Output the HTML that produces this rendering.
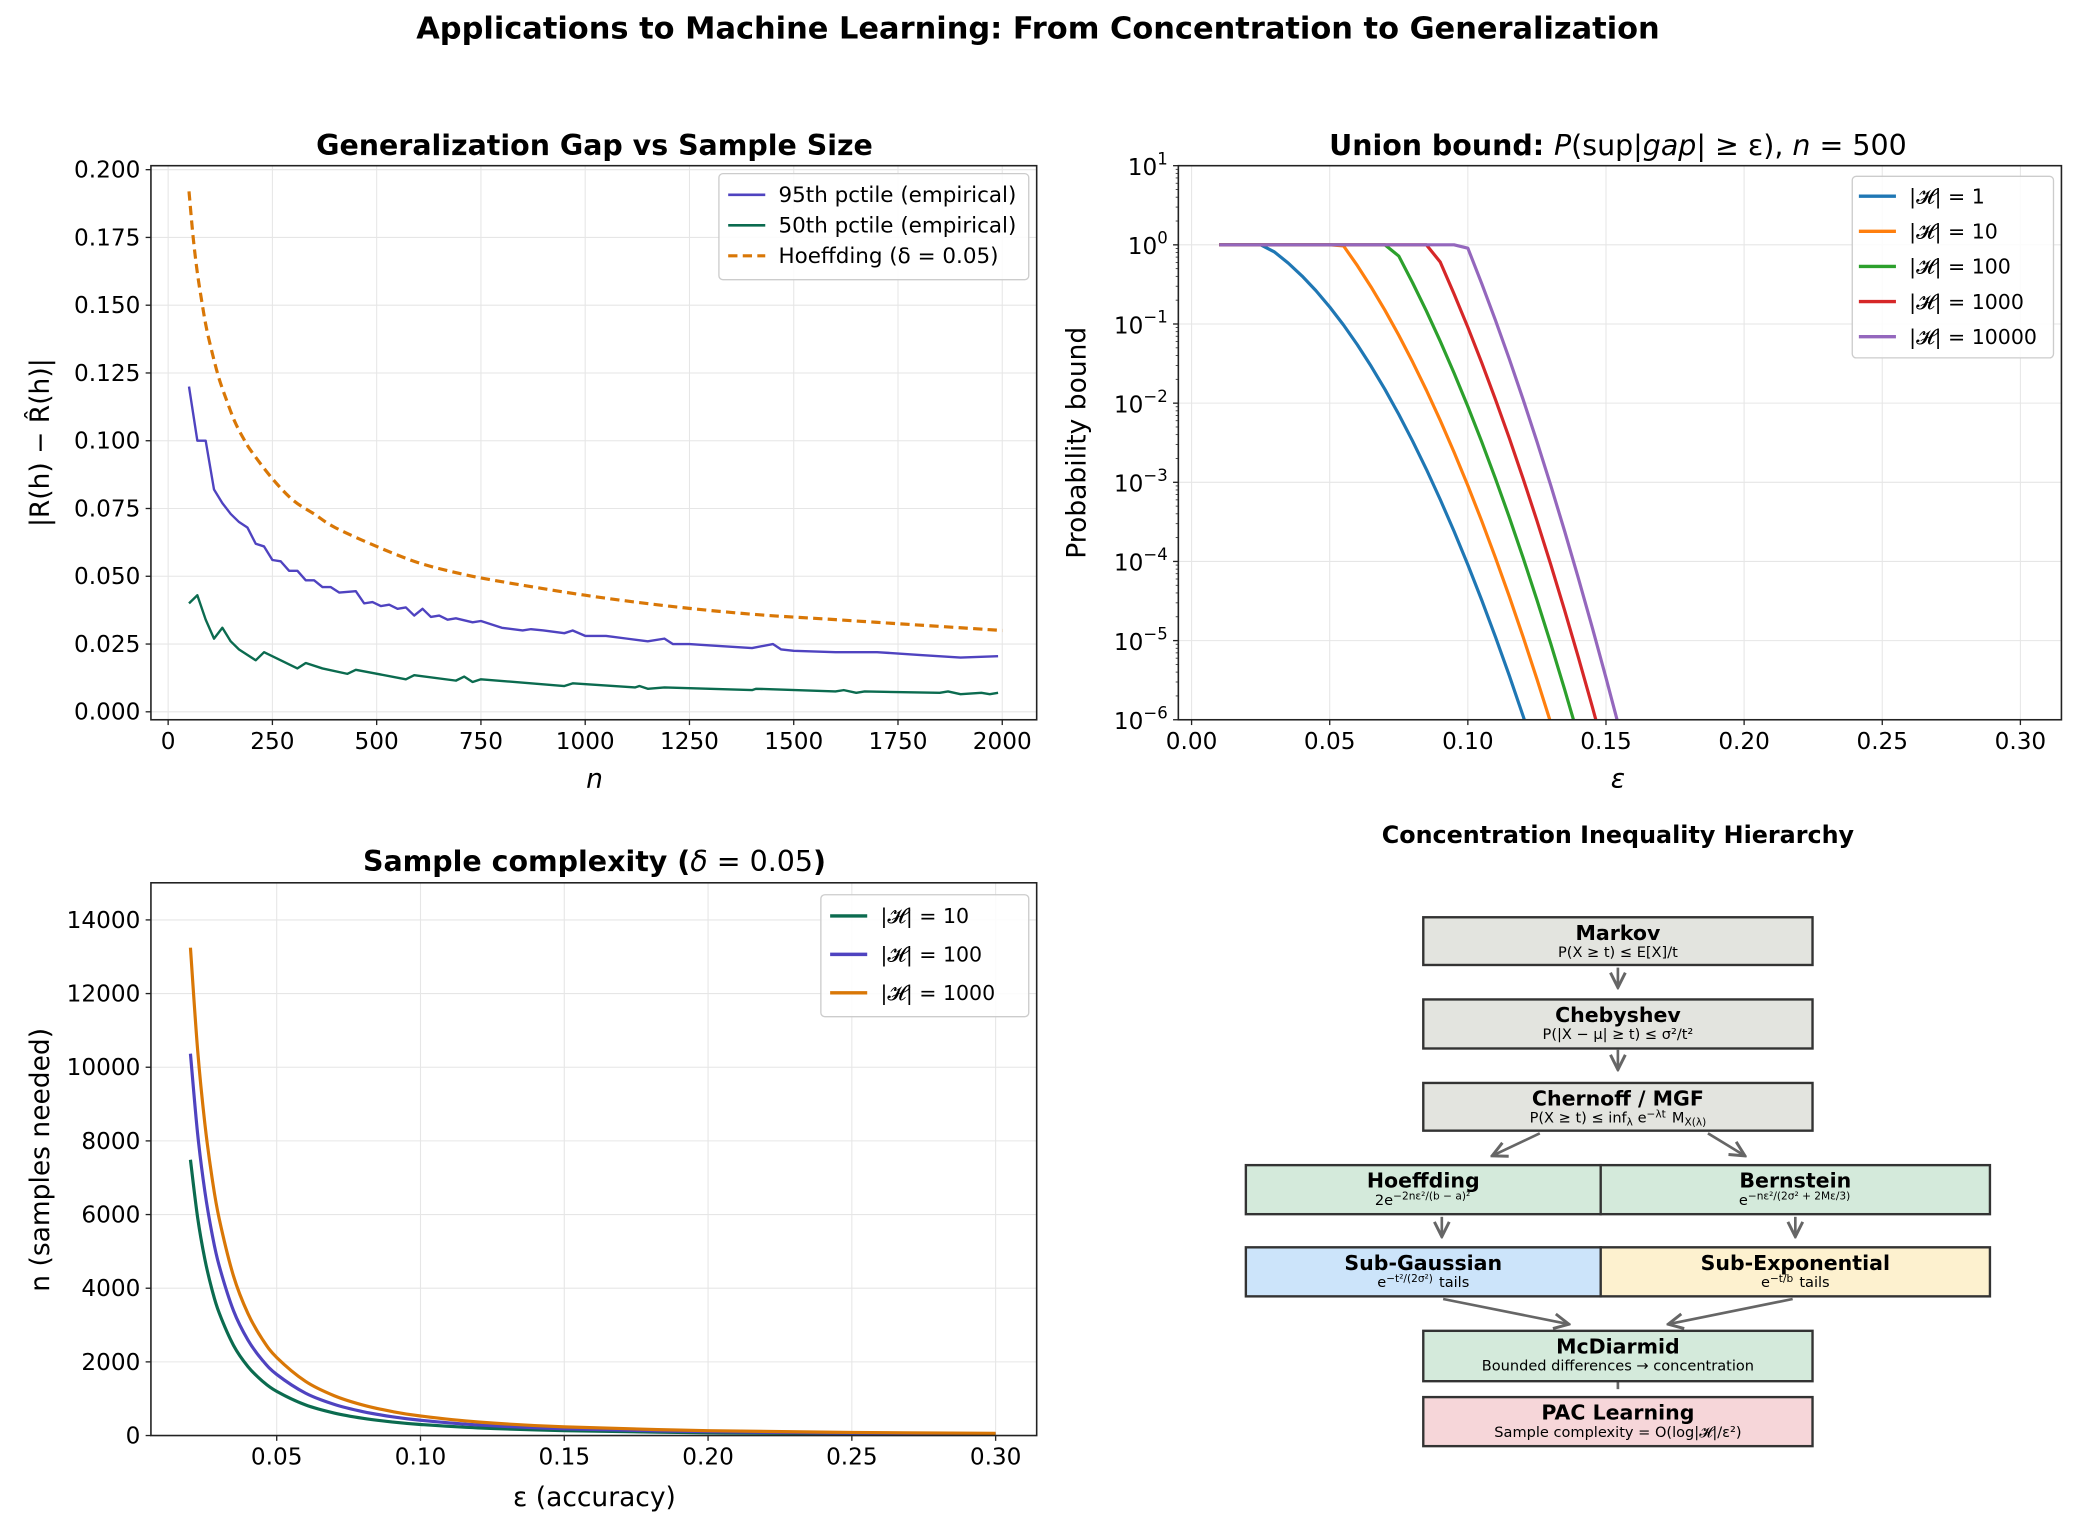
<!DOCTYPE html>
<html><head><meta charset="utf-8">
<style>
html,body{margin:0;padding:0;background:#fff;}
svg{display:block;font-family:"DejaVu Sans","Liberation Sans",sans-serif;}
</style></head>
<body>
<svg id="fig" width="2076" height="1527" viewBox="0 0 1568 1152" preserveAspectRatio="none" xmlns="http://www.w3.org/2000/svg">
<rect width="1568" height="1152" fill="#fff"/>
<text x="784" y="29" text-anchor="middle" font-size="23" font-weight="bold">Applications to Machine Learning: From Concentration to Generalization</text>
<defs>
<clipPath id="clipTR"><rect x="890" y="125" width="667" height="418"/></clipPath>
<clipPath id="clipBL"><rect x="114" y="666" width="669" height="417"/></clipPath>
<marker id="ah" viewBox="0 0 10 10" refX="9" refY="5" markerWidth="7" markerHeight="7" orient="auto-start-reverse"><path d="M1,1 L9,5 L1,9" fill="none" stroke="#666" stroke-width="1.6"/></marker>
</defs>
<g id="tl"></g>
<g id="tr"></g>
<g id="bl"></g>
<g id="br"></g>
</svg>
<script>
// ---------- Panel 1 data ----------
const gapN95 = [50,70,90,110,130,150,170,190,210,230,250,270,290,310,330,350,370,390,410,450,470,490,510,530,550,570,590,610,630,650,670,690,730,750,800,850,870,900,950,970,1000,1050,1100,1150,1190,1210,1250,1300,1400,1450,1470,1500,1600,1700,1800,1900,1990];
const gap95 = [0.120,0.100,0.100,0.082,0.077,0.073,0.070,0.068,0.062,0.061,0.056,0.0555,0.052,0.052,0.0485,0.0485,0.046,0.046,0.044,0.0445,0.040,0.0405,0.039,0.0395,0.038,0.0385,0.0355,0.038,0.035,0.0355,0.034,0.0345,0.033,0.0335,0.031,0.030,0.0305,0.030,0.029,0.030,0.028,0.028,0.027,0.026,0.027,0.025,0.025,0.0245,0.0235,0.025,0.023,0.0225,0.022,0.022,0.021,0.020,0.0205];
const gapN50 = [50,70,90,110,130,150,170,210,230,270,310,330,370,430,450,570,590,690,710,730,750,950,970,1120,1130,1150,1190,1400,1410,1600,1620,1650,1670,1850,1870,1900,1950,1970,1990];
const gap50 = [0.040,0.043,0.034,0.027,0.031,0.026,0.023,0.019,0.022,0.019,0.016,0.018,0.016,0.014,0.0155,0.012,0.0135,0.0115,0.013,0.011,0.012,0.0095,0.0105,0.009,0.0095,0.0085,0.009,0.008,0.0085,0.0075,0.008,0.007,0.0075,0.007,0.0075,0.0065,0.007,0.0065,0.007];
const hoefN = [50,60,70,80,90,100,120,140,160,180,200,250,300,350,400,500,600,700,800,1000,1200,1400,1600,1800,2000];
const hoefVal = [0.192,0.175,0.162,0.152,0.143,0.136,0.124,0.115,0.107,0.101,0.096,0.086,0.078,0.073,0.068,0.061,0.055,0.051,0.048,0.043,0.039,0.036,0.034,0.032,0.030];
const gapYTicks = [0,0.025,0.05,0.075,0.1,0.125,0.15,0.175,0.2];
const gapYLabels = ["0.000","0.025","0.050","0.075","0.100","0.125","0.150","0.175","0.200"];
const gapXTicks = [0,250,500,750,1000,1250,1500,1750,2000];
// ---------- Panel 2 data ----------
const eps = [0.01,0.015,0.02,0.025,0.03,0.035,0.04,0.045,0.05,0.055,0.06,0.065,0.07,0.075,0.08,0.085,0.09,0.095,0.1,0.105,0.11,0.115,0.12,0.125,0.13,0.135,0.14,0.145,0.15,0.155,0.16];
const logP_H1 = [0,0,0,0,-0.09,-0.231,-0.394,-0.578,-0.785,-1.013,-1.262,-1.534,-1.827,-2.142,-2.479,-2.837,-3.217,-3.619,-4.042,-4.487,-4.954,-5.442,-5.953,-6.485,-7.04,-7.61,-8.21,-8.83,-9.47,-10.13,-10.82];
const logP_H10 = [0,0,0,0,0,0,0,0,0,-0.013,-0.262,-0.534,-0.827,-1.142,-1.479,-1.837,-2.217,-2.619,-3.042,-3.487,-3.954,-4.442,-4.953,-5.485,-6.038,-6.61,-7.21,-7.83,-8.47,-9.13,-9.82];
const logP_H100 = [0,0,0,0,0,0,0,0,0,0,0,0,0,-0.142,-0.479,-0.837,-1.217,-1.619,-2.042,-2.487,-2.954,-3.442,-3.953,-4.485,-5.038,-5.614,-6.211,-6.83,-7.47,-8.13,-8.82];
const logP_H1000 = [0,0,0,0,0,0,0,0,0,0,0,0,0,0,0,0,-0.217,-0.619,-1.042,-1.487,-1.954,-2.442,-2.953,-3.485,-4.038,-4.614,-5.211,-5.83,-6.47,-7.13,-7.82];
const logP_H10000 = [0,0,0,0,0,0,0,0,0,0,0,0,0,0,0,0,0,0,-0.042,-0.487,-0.954,-1.442,-1.953,-2.485,-3.038,-3.614,-4.211,-4.83,-5.47,-6.13,-6.82];
const unionLabels = ["|𝓗| = 1","|𝓗| = 10","|𝓗| = 100","|𝓗| = 1000","|𝓗| = 10000"];
const unionXTicks = [0,0.05,0.1,0.15,0.2,0.25,0.3];
const unionYExps = [1,0,-1,-2,-3,-4,-5,-6];
// ---------- Panel 3 data ----------
const scEps = [0.02,0.0225,0.025,0.0275,0.03,0.035,0.04,0.045,0.05,0.06,0.07,0.08,0.09,0.1,0.12,0.15,0.2,0.25,0.3];
const scH10 = [7488,5917,4792,3961,3328,2445,1872,1479,1198,832,611,468,370,300,208,133,75,48,33];
const scH100 = [10368,8193,6635,5484,4608,3385,2592,2048,1659,1152,846,648,512,415,288,184,104,66,46];
const scH1000 = [13246,10468,8477,7006,5887,4325,3311,2616,2119,1472,1081,828,654,530,368,235,132,85,59];
const scYTicks = [0,2000,4000,6000,8000,10000,12000,14000];
const scXTicks = [0.05,0.1,0.15,0.2,0.25,0.3];

const NS="http://www.w3.org/2000/svg";
const TICK=17.5, LAB=20, TTL=21.5, LEG=16.2;
function mk(parent,tag,attrs,text){const e=document.createElementNS(NS,tag);for(const k in attrs)e.setAttribute(k,attrs[k]);if(text!==undefined)e.textContent=text;parent.appendChild(e);return e;}

function frame(g,x0,y0,x1,y1){
  const r=mk(g,'rect',{x:x0,y:y0,width:x1-x0,height:y1-y0,fill:'none',stroke:'#222','stroke-width':1.2});
  
  
}
function poly(g,xs,ys,fx,fy,attrs,name,smooth){
  const P=xs.map((x,i)=>[fx(x),fy(ys[i])]);
  let d='M'+P[0][0].toFixed(2)+','+P[0][1].toFixed(2);
  for(let i=1;i<P.length;i++){
    if(smooth){
      const p0=P[Math.max(i-2,0)],p1=P[i-1],p2=P[i],p3=P[Math.min(i+1,P.length-1)];
      const c1=[p1[0]+(p2[0]-p0[0])/6,p1[1]+(p2[1]-p0[1])/6];
      const c2=[p2[0]-(p3[0]-p1[0])/6,p2[1]-(p3[1]-p1[1])/6];
      d+='C'+c1[0].toFixed(2)+','+c1[1].toFixed(2)+' '+c2[0].toFixed(2)+','+c2[1].toFixed(2)+' '+p2[0].toFixed(2)+','+p2[1].toFixed(2);
    } else d+='L'+P[i][0].toFixed(2)+','+P[i][1].toFixed(2);
  }
  const p=mk(g,'path',Object.assign({d:d,fill:'none','stroke-linejoin':'round'},attrs));
  
  
  return p;
}
function legendBox(g,x,y,w,h){
  const r=mk(g,'rect',{x:x,y:y,width:w,height:h,rx:3,fill:'#fff','fill-opacity':0.85,stroke:'#ccc','stroke-width':1});
  
  
}
function legendEntry(g,x,y,color,label,dash,lw,fs){
  const l=mk(g,'line',{x1:x,y1:y,x2:x+28,y2:y,stroke:color,'stroke-width':lw});
  if(dash)l.setAttribute('stroke-dasharray',dash);
  
  
  const t=mk(g,'text',{x:x+38,y:y+5.5,'font-size':fs},label);
  
  
}

// ---------- Panel 1 ----------
(function(){
  const g=document.getElementById('tl');
  const X0=114,X1=783,Y0=125,Y1=543;
  const fx=v=>127+(v-0)*(757-127)/2000;
  const fy=v=>537-(v-0)*(537-128)/0.2;
  gapXTicks.forEach(v=>{mk(g,'line',{x1:fx(v),y1:Y0,x2:fx(v),y2:Y1,stroke:'#e6e6e6','stroke-width':0.8});
    mk(g,'line',{x1:fx(v),y1:Y1,x2:fx(v),y2:Y1+4,stroke:'#222'});
    const t=mk(g,'text',{x:fx(v),y:Y1+22,'text-anchor':'middle','font-size':TICK},String(v));
    });
  gapYTicks.forEach((v,i)=>{mk(g,'line',{x1:X0,y1:fy(v),x2:X1,y2:fy(v),stroke:'#e6e6e6','stroke-width':0.8});
    mk(g,'line',{x1:X0-4,y1:fy(v),x2:X0,y2:fy(v),stroke:'#222'});
    const t=mk(g,'text',{x:X0-8,y:fy(v)+6,'text-anchor':'end','font-size':TICK},gapYLabels[i]);
    });
  poly(g,gapN95,gap95,fx,fy,{stroke:'#4f43c0','stroke-width':1.8},'line-95th-pctile');
  poly(g,gapN50,gap50,fx,fy,{stroke:'#0b6b4f','stroke-width':1.8},'line-50th-pctile');
  poly(g,hoefN,hoefVal,fx,fy,{stroke:'#d97706','stroke-width':2.4,'stroke-dasharray':'7,4'},'line-hoeffding-bound',true);
  frame(g,X0,Y0,X1,Y1);
  legendBox(g,543,131,234,80);
  legendEntry(g,550,147,'#4f43c0','95th pctile (empirical)',null,2,LEG);
  legendEntry(g,550,170,'#0b6b4f','50th pctile (empirical)',null,2,LEG);
  legendEntry(g,550,193,'#d97706','Hoeffding (δ = 0.05)','7,4',2.4,LEG);
  const t=mk(g,'text',{x:449,y:117,'text-anchor':'middle','font-size':TTL,'font-weight':'bold'},'Generalization Gap vs Sample Size');
  
  const xl=mk(g,'text',{x:449,y:594,'text-anchor':'middle','font-size':LAB,'font-style':'italic'},'n');
  
  const yl=mk(g,'text',{x:37,y:334,'text-anchor':'middle','font-size':LAB,transform:'rotate(-90 37 334)'},'|R(h) − R̂(h)|');
  
})();

// ---------- Panel 2 ----------
(function(){
  const g=document.getElementById('tr');
  const X0=890,X1=1557,Y0=125,Y1=543;
  const fx=v=>900+v*(1526-900)/0.3;
  const fy=e=>543-(e+6)*(543-125)/7;
  unionXTicks.forEach(v=>{mk(g,'line',{x1:fx(v),y1:Y0,x2:fx(v),y2:Y1,stroke:'#e6e6e6','stroke-width':0.8});
    mk(g,'line',{x1:fx(v),y1:Y1,x2:fx(v),y2:Y1+4,stroke:'#222'});
    const t=mk(g,'text',{x:fx(v),y:Y1+22,'text-anchor':'middle','font-size':TICK},v.toFixed(2));
    });
  unionYExps.forEach(e=>{mk(g,'line',{x1:X0,y1:fy(e),x2:X1,y2:fy(e),stroke:'#e6e6e6','stroke-width':0.8});
    mk(g,'line',{x1:X0-4,y1:fy(e),x2:X0,y2:fy(e),stroke:'#222'});
    for(let k=2;k<10&&e>-6;k++){const yy=fy(e-1+Math.log10(k));mk(g,'line',{x1:X0-2,y1:yy,x2:X0,y2:yy,stroke:'#222','stroke-width':0.6});}
    const t=mk(g,'text',{x:X0-8,y:fy(e)+7,'text-anchor':'end','font-size':TICK});
    
    mk(t,'tspan',{},'10');mk(t,'tspan',{dy:-8,'font-size':12.5},e<0?'−'+(-e):String(e));});
  const cg=mk(g,'g',{'clip-path':'url(#clipTR)'});
  const series=[logP_H1,logP_H10,logP_H100,logP_H1000,logP_H10000];
  const cols=['#1f77b4','#ff7f0e','#2ca02c','#d62728','#9467bd'];
  series.forEach((s,i)=>poly(cg,eps,s,fx,fy,{stroke:cols[i],'stroke-width':2.4},'union-bound-line-'+i));
  frame(g,X0,Y0,X1,Y1);
  legendBox(g,1399,133,152,137);
  unionLabels.forEach((l,i)=>legendEntry(g,1404,148+i*26.5,cols[i],l,null,2.6,15.5));
  const t=mk(g,'text',{x:1222,y:117,'text-anchor':'middle','font-size':TTL,'font-weight':'bold'});
  
  mk(t,'tspan',{},'Union bound: ');mk(t,'tspan',{'font-weight':'normal','font-style':'italic'},'P');mk(t,'tspan',{'font-weight':'normal'},'(sup|');mk(t,'tspan',{'font-weight':'normal','font-style':'italic'},'gap');mk(t,'tspan',{'font-weight':'normal'},'| ≥ ε), ');mk(t,'tspan',{'font-weight':'normal','font-style':'italic'},'n');mk(t,'tspan',{'font-weight':'normal'},' = 500');
  const xl=mk(g,'text',{x:1222,y:594,'text-anchor':'middle','font-size':LAB,'font-style':'italic'},'ε');
  
  const yl=mk(g,'text',{x:820,y:334,'text-anchor':'middle','font-size':LAB,transform:'rotate(-90 820 334)'},'Probability bound');
  
})();

// ---------- Panel 3 ----------
(function(){
  const g=document.getElementById('bl');
  const X0=114,X1=783,Y0=666,Y1=1083;
  const fx=v=>209+(v-0.05)*(752-209)/0.25;
  const fy=v=>1083-v*(1083-694)/14000;
  scXTicks.forEach(v=>{mk(g,'line',{x1:fx(v),y1:Y0,x2:fx(v),y2:Y1,stroke:'#e6e6e6','stroke-width':0.8});
    mk(g,'line',{x1:fx(v),y1:Y1,x2:fx(v),y2:Y1+4,stroke:'#222'});
    const t=mk(g,'text',{x:fx(v),y:Y1+22,'text-anchor':'middle','font-size':TICK},v.toFixed(2));
    });
  scYTicks.forEach(v=>{mk(g,'line',{x1:X0,y1:fy(v),x2:X1,y2:fy(v),stroke:'#e6e6e6','stroke-width':0.8});
    mk(g,'line',{x1:X0-4,y1:fy(v),x2:X0,y2:fy(v),stroke:'#222'});
    const t=mk(g,'text',{x:X0-8,y:fy(v)+6,'text-anchor':'end','font-size':TICK},String(v));
    });
  const cg=mk(g,'g',{'clip-path':'url(#clipBL)'});
  poly(cg,scEps,scH10,fx,fy,{stroke:'#0b6b4f','stroke-width':2.4},'line-h-10',true);
  poly(cg,scEps,scH100,fx,fy,{stroke:'#4f43c0','stroke-width':2.4},'line-h-100',true);
  poly(cg,scEps,scH1000,fx,fy,{stroke:'#d97706','stroke-width':2.4},'line-h-1000',true);
  frame(g,X0,Y0,X1,Y1);
  legendBox(g,620,675,157,92);
  legendEntry(g,627,691,'#0b6b4f','|𝓗| = 10',null,2.6,15.5);
  legendEntry(g,627,720,'#4f43c0','|𝓗| = 100',null,2.6,15.5);
  legendEntry(g,627,749,'#d97706','|𝓗| = 1000',null,2.6,15.5);
  const t=mk(g,'text',{x:449,y:657,'text-anchor':'middle','font-size':TTL,'font-weight':'bold'});
  
  mk(t,'tspan',{},'Sample complexity (');mk(t,'tspan',{'font-weight':'normal','font-style':'italic'},'δ');mk(t,'tspan',{'font-weight':'normal'},' = 0.05');mk(t,'tspan',{},')');
  const xl=mk(g,'text',{x:449,y:1136,'text-anchor':'middle','font-size':LAB},'ε (accuracy)');
  
  const yl=mk(g,'text',{x:37,y:875,'text-anchor':'middle','font-size':LAB,transform:'rotate(-90 37 875)'},'n (samples needed)');
  
})();

// ---------- Diagram ----------
(function(){
  const g=document.getElementById('br');
  const t=mk(g,'text',{x:1222,y:636,'text-anchor':'middle','font-size':18,'font-weight':'bold'},'Concentration Inequality Hierarchy');
  
  const arrows=[[1222,730,1222,745],[1222,792,1222,807],[1163,855,1127,872],[1290,855,1318,872],[1089,918,1089,933],[1356,918,1356,933],[1090,980,1185,999],[1354,980,1260,999]];
  arrows.forEach(a=>{const l=mk(g,'line',{x1:a[0],y1:a[1],x2:a[2],y2:a[3],stroke:'#666','stroke-width':2,'marker-end':'url(#ah)'});
    });
  mk(g,'line',{x1:1222,y1:1042,x2:1222,y2:1048,stroke:'#666','stroke-width':2});
  const boxes=[
    ['markov-box',1075,692,294,36,'#e3e4df','Markov','P(X ≥ t) ≤ E[X]/t'],
    ['chebyshev-box',1075,754,294,37,'#e3e4df','Chebyshev','P(|X − μ| ≥ t) ≤ σ²/t²'],
    ['chernoff-box',1075,817,294,36,'#e3e4df','Chernoff / MGF','P(X ≥ t) ≤ inf_λ e^{−λt} M_X(λ)'],
    ['hoeffding-box',941,879,268,37,'#d4eadb','Hoeffding','2e^{−2nε²/(b − a)²}'],
    ['bernstein-box',1209,879,294,37,'#d4eadb','Bernstein','e^{−nε²/(2σ² + 2Mε/3)}'],
    ['sub-gaussian-box',941,941,268,37,'#cce4fa','Sub-Gaussian','e^{−t²/(2σ²)} tails'],
    ['sub-exponential-box',1209,941,294,37,'#fdf1cf','Sub-Exponential','e^{−t/b} tails'],
    ['mcdiarmid-box',1075,1004,294,38,'#d4eadb','McDiarmid','Bounded differences → concentration'],
    ['pac-learning-box',1075,1054,294,37,'#f6d6d9','PAC Learning','Sample complexity = O(log|𝓗|/ε²)']
  ];
  boxes.forEach(b=>{
    const r=mk(g,'rect',{x:b[1],y:b[2],width:b[3],height:b[4],fill:b[5],stroke:'#333','stroke-width':1.8});
    
    const cx=b[1]+b[3]/2;
    const h=mk(g,'text',{x:cx,y:b[2]+17,'text-anchor':'middle','font-size':15.5,'font-weight':'bold'},b[6]);
    
    const s=mk(g,'text',{x:cx,y:b[2]+30,'text-anchor':'middle','font-size':11});
    
    const parts=b[7].split(/(\^\{[^}]*\}|_[^ ]*)/);
    parts.forEach(p=>{if(!p)return;
      if(p.startsWith('^{')){mk(s,'tspan',{dy:-4,'font-size':8},p.slice(2,-1));mk(s,'tspan',{dy:4},'\u200a');}
      else if(p.startsWith('_')){mk(s,'tspan',{dy:2,'font-size':8},p.slice(1));mk(s,'tspan',{dy:-2},' ');}
      else mk(s,'tspan',{},p);});
  });
})();
</script>
</body></html>
